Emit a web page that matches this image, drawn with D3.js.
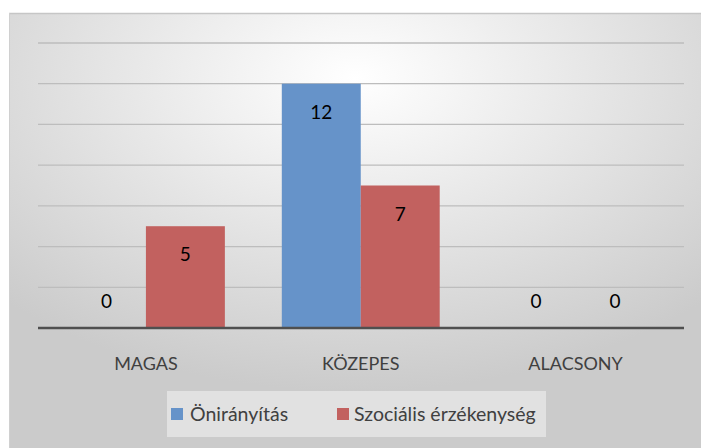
<!DOCTYPE html>
<html><head><meta charset="utf-8">
<script src="https://cdn.jsdelivr.net/npm/d3@7"></script>
<style>body{margin:0;background:#fff}svg{display:block}text{font-family:Lato,"Open Sans",sans-serif}</style>
</head><body>
<svg id="c" width="701" height="448"></svg>
<script>
const categories = ["MAGAS", "KÖZEPES", "ALACSONY"];
const seriesNames = ["Önirányítás", "Szociális érzékenység"];
const oniranyitas = [0, 12, 0];
const szocialis = [5, 7, 0];
const yTicks = [0, 2, 4, 6, 8, 10, 12, 14];
const colors = ["#6693c9", "#c2615f"];

const svg = d3.select("#c");
const defs = svg.append("defs");
const rg = defs.append("radialGradient").attr("id","bg").attr("cx","50%").attr("cy","15%").attr("r","72%").attr("fx","50%").attr("fy","15%");
rg.append("stop").attr("offset","0%").attr("stop-color","#ffffff");
rg.append("stop").attr("offset","100%").attr("stop-color","#cbcbcb");

svg.append("rect").attr("x",9).attr("y",13).attr("width",701-9).attr("height",448-13).attr("fill","url(#bg)");
svg.append("line").attr("x1",9).attr("x2",701).attr("y1",13.5).attr("y2",13.5).attr("stroke","#c6c6c6").attr("stroke-width",1.5);
svg.append("line").attr("x1",9.5).attr("x2",9.5).attr("y1",13).attr("y2",448).attr("stroke","#d0d0d0").attr("stroke-width",1);

const x0 = d3.scaleBand().domain(categories).range([38.5, 683]).paddingInner(0.265).paddingOuter(0.1325);
const x1 = d3.scaleBand().domain(seriesNames).range([0, x0.bandwidth()]);
const y = d3.scaleLinear().domain([0, 14]).range([328, 43]);

const grid = svg.append("g");
grid.selectAll("line").data(yTicks.filter(d=>d>0)).join("line")
  .attr("x1",38).attr("x2",684).attr("y1",d=>y(d)).attr("y2",d=>y(d))
  .attr("stroke","#bdbdbd").attr("stroke-width",1.3);

const data = categories.map((c,i)=>({cat:c, vals:[oniranyitas[i], szocialis[i]]}));
const g = svg.append("g").selectAll("g").data(data).join("g").attr("transform",d=>`translate(${x0(d.cat)},0)`);
g.selectAll("rect").data(d=>d.vals.map((v,j)=>({v, s:seriesNames[j], j}))).join("rect")
  .attr("x",d=>x1(d.s)).attr("width",x1.bandwidth())
  .attr("y",d=>y(d.v)).attr("height",d=>y(0)-y(d.v))
  .attr("fill",d=>colors[d.j]);

// baseline
svg.append("line").attr("x1",38).attr("x2",684).attr("y1",y(0)).attr("y2",y(0)).attr("stroke","#4f4f4f").attr("stroke-width",2.5);

// data labels
g.selectAll("text").data(d=>d.vals.map((v,j)=>({v, s:seriesNames[j], j}))).join("text")
  .attr("x",d=>x1(d.s)+x1.bandwidth()/2)
  .attr("y",d=>d.v===0 ? y(0)-20 : y(d.v)+35)
  .attr("text-anchor","middle").attr("font-size",19).attr("fill","#000")
  .text(d=>d.v);

// x axis labels
svg.append("g").selectAll("text").data(categories).join("text")
  .attr("x",d=>x0(d)+x0.bandwidth()/2).attr("y",370)
  .attr("text-anchor","middle").attr("font-size",18).attr("fill","#404040").text(d=>d);

// legend
const lg = svg.append("g");
lg.append("rect").attr("x",167).attr("y",391).attr("width",379).attr("height",46).attr("fill","#e6e6e6").attr("opacity",0.8);
const items = [{n:seriesNames[0], c:colors[0], sx:171, tx:190},{n:seriesNames[1], c:colors[1], sx:337, tx:354}];
items.forEach(it=>{
  lg.append("rect").attr("x",it.sx).attr("y",408).attr("width",12).attr("height",12).attr("fill",it.c);
  lg.append("text").attr("x",it.tx).attr("y",421).attr("font-size",19.5).attr("fill","#404040").text(it.n);
});
</script>
</body></html>
